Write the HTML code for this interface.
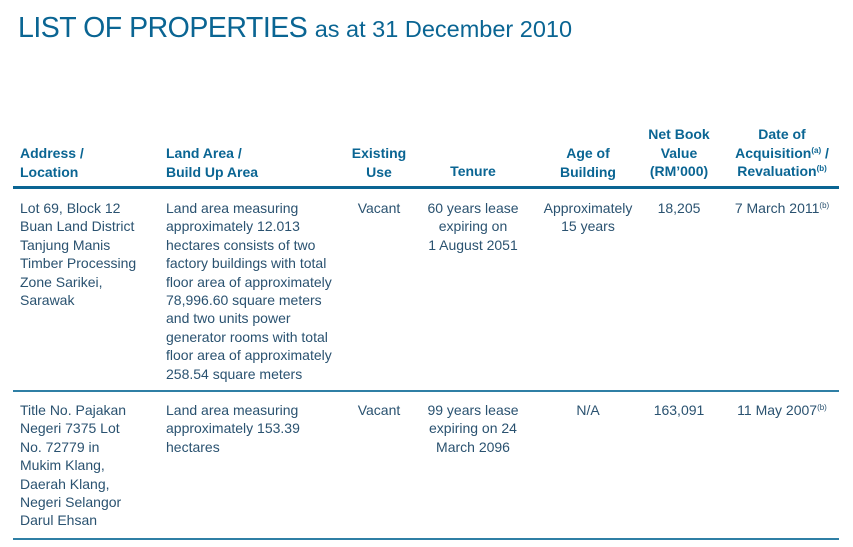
<!DOCTYPE html>
<html><head><meta charset="utf-8"><style>
body{margin:0;width:853px;height:547px;background:#fff;position:relative;overflow:hidden;font-family:"Liberation Sans",sans-serif;}
h1{position:absolute;left:18px;top:12px;margin:0;font-weight:normal;color:#0a6593;font-size:28.5px;letter-spacing:-0.5px;white-space:nowrap}
h1 span{font-size:23.5px;letter-spacing:0}
.h{position:absolute;color:#0a6593;font-weight:bold;font-size:14px;line-height:18.5px;white-space:nowrap}
.b{position:absolute;color:#2a5270;font-size:14px;line-height:18.4px;white-space:nowrap}
.c{text-align:center;transform:translateX(-50%)}
sup{font-size:8px;vertical-align:5px;line-height:0}
.line{position:absolute;left:13px;width:826px;background:#0a6593}
</style></head><body>
<h1>LIST OF PROPERTIES <span>as at 31 December 2010</span></h1>
<div class="h" style="left:20px;top:144px">Address /<br>Location</div>
<div class="h" style="left:166px;top:144px">Land Area /<br>Build Up Area</div>
<div class="h c" style="left:379px;top:144px">Existing<br>Use</div>
<div class="h c" style="left:473px;top:162px">Tenure</div>
<div class="h c" style="left:588px;top:144px">Age of<br>Building</div>
<div class="h c" style="left:679px;top:125px">Net Book<br>Value<br>(RM’000)</div>
<div class="h c" style="left:782px;top:125px">Date of<br>Acquisition<sup>(a)</sup> /<br>Revaluation<sup>(b)</sup></div>
<div class="line" style="top:186px;height:3px"></div>

<div class="b" style="left:20px;top:199px">Lot 69, Block 12<br>Buan Land District<br>Tanjung Manis<br>Timber Processing<br>Zone Sarikei,<br>Sarawak</div>
<div class="b" style="left:166px;top:199px">Land area measuring<br>approximately 12.013<br>hectares consists of two<br>factory buildings with total<br>floor area of approximately<br>78,996.60 square meters<br>and two units power<br>generator rooms with total<br>floor area of approximately<br>258.54 square meters</div>
<div class="b c" style="left:379px;top:199px">Vacant</div>
<div class="b c" style="left:473px;top:199px">60 years lease<br>expiring on<br>1 August 2051</div>
<div class="b c" style="left:588px;top:199px">Approximately<br>15 years</div>
<div class="b c" style="left:679px;top:199px">18,205</div>
<div class="b c" style="left:782px;top:199px">7 March 2011<sup>(b)</sup></div>
<div class="line" style="top:390px;height:2px;background:#2f7fa5"></div>

<div class="b" style="left:20px;top:401px">Title No. Pajakan<br>Negeri 7375 Lot<br>No. 72779 in<br>Mukim Klang,<br>Daerah Klang,<br>Negeri Selangor<br>Darul Ehsan</div>
<div class="b" style="left:166px;top:401px">Land area measuring<br>approximately 153.39<br>hectares</div>
<div class="b c" style="left:379px;top:401px">Vacant</div>
<div class="b c" style="left:473px;top:401px">99 years lease<br>expiring on 24<br>March 2096</div>
<div class="b c" style="left:588px;top:401px">N/A</div>
<div class="b c" style="left:679px;top:401px">163,091</div>
<div class="b c" style="left:782px;top:401px">11 May 2007<sup>(b)</sup></div>
<div class="line" style="top:538px;height:2px;background:#2f7fa5"></div>
</body></html>
